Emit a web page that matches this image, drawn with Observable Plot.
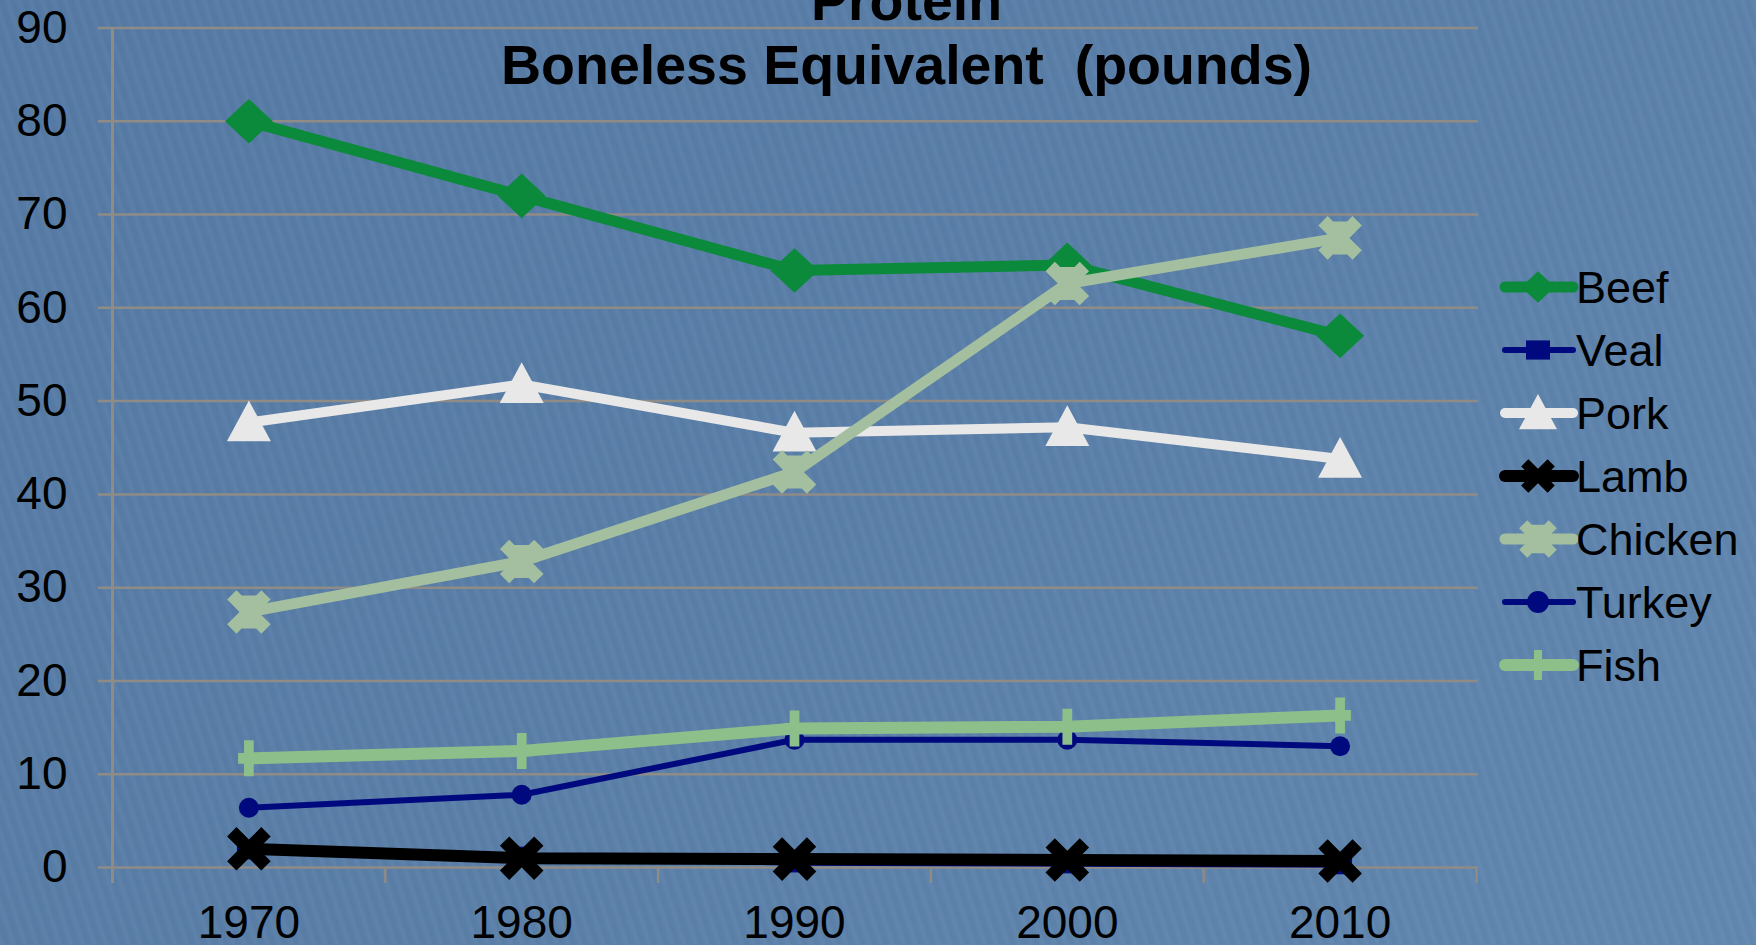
<!DOCTYPE html>
<html><head><meta charset="utf-8">
<script src="https://cdn.jsdelivr.net/npm/d3@7"></script>
<script src="https://cdn.jsdelivr.net/npm/@observablehq/plot@0.6"></script>
<style>
html,body{margin:0;padding:0;}
body{width:1756px;height:945px;overflow:hidden;
  background:
    repeating-linear-gradient(72deg, rgba(255,255,255,0.025) 0px, rgba(255,255,255,0.025) 3px, rgba(0,0,0,0.02) 6px, rgba(0,0,0,0) 11px),
    linear-gradient(135deg,#557aa4 0%,#5a7fa8 50%,#6288b0 100%);}
#wrap{position:relative;width:1756px;height:945px;}
#chart svg{display:block;}
#legend{position:absolute;left:0;top:0;pointer-events:none;}
</style></head>
<body><div id="wrap"><div id="chart"></div><svg id="legend" width="1756" height="945"></svg></div>
<script>
// ---- data ----
const years = [1970, 1980, 1990, 2000, 2010];
const seriesNames = ["Beef", "Veal", "Pork", "Lamb", "Chicken", "Turkey", "Fish"];
const beef    = [80.0, 72.0, 64.0, 64.6, 57.0];
const veal    = [1.9, 1.2, 0.5, 0.4, 0.3];
const pork    = [47.7, 51.8, 46.6, 47.2, 43.8];
const lamb    = [2.0, 1.0, 0.9, 0.8, 0.7];
const chicken = [27.4, 32.8, 42.4, 62.6, 67.5];
const turkey  = [6.4, 7.8, 13.7, 13.7, 13.0];
const fish    = [11.7, 12.5, 14.9, 15.1, 16.3];
const yTicks = [0, 10, 20, 30, 40, 50, 60, 70, 80, 90];
const xBounds = [1965, 1975, 1985, 1995, 2005, 2015];
const titleText = "Protein";
const subtitleText = "Boneless Equivalent\u00a0 (pounds)";

// ---- symbols ----
function mk(fn){ return {draw(ctx, size){ const r = Math.sqrt(size/Math.PI); fn(ctx, r); }}; }
function poly(ctx, pts){ ctx.moveTo(pts[0][0], pts[0][1]); for (let k=1;k<pts.length;k++) ctx.lineTo(pts[k][0], pts[k][1]); ctx.closePath(); }
function plusPts(L, t, L2, t2){
  return [[-t,-L],[t,-L],[t,-t2],[L2,-t2],[L2,t2],[t,t2],[t,L],[-t,L],[-t,t2],[-L2,t2],[-L2,-t2],[-t,-t2]];
}
function rot45(pts){ const s=Math.SQRT1_2; return pts.map(([x,y])=>[(x-y)*s,(x+y)*s]); }
const symDiamond = mk((c,r)=>poly(c,[[0,-0.93*r],[r,0],[0,0.93*r],[-r,0]]));
const symSquare  = mk((c,r)=>poly(c,[[-r,-0.8*r],[r,-0.8*r],[r,0.8*r],[-r,0.8*r]]));
const symTri     = mk((c,r)=>poly(c,[[0,-r],[r,0.85*r],[-r,0.85*r]]));
const symX       = mk((c,r)=>poly(c,rot45(plusPts(1.1*r,0.3*r,1.1*r,0.3*r))));
const symStar    = mk((c,r)=>{ poly(c,rot45(plusPts(1.1*r,0.3*r,1.1*r,0.3*r))); poly(c,plusPts(0.75*r,0.35*r,0.35*r,0.35*r)); });
const symCircle  = mk((c,r)=>{ c.moveTo(r,0); c.arc(0,0,r,0,2*Math.PI); c.closePath(); });
const symPlus    = mk((c,r)=>poly(c,plusPts(r,0.27*r,0.6*r,0.3*r)));

const styles = {
  Beef:    {values: beef,    color: "#0b8a3b", width: 11, symbol: symDiamond, r: 24, lr: 17},
  Veal:    {values: veal,    color: "#000a7e", width: 6,  symbol: symSquare,  r: 12, lr: 12},
  Pork:    {values: pork,    color: "#e8e8e8", width: 10, symbol: symTri,     r: 22, lr: 19},
  Lamb:    {values: lamb,    color: "#000000", width: 12, symbol: symX,       r: 22, lr: 17},
  Chicken: {values: chicken, color: "#a4bf9f", width: 11, symbol: symStar,    r: 22, lr: 19},
  Turkey:  {values: turkey,  color: "#000a7e", width: 6,  symbol: symCircle,  r: 10, lr: 11},
  Fish:    {values: fish,    color: "#8dbf8a", width: 12, symbol: symPlus,    r: 18, lr: 15}
};
const gridColor = "#8f8b86";
const font = "'Liberation Sans', Arial, sans-serif";

const marks = [
  Plot.gridY(yTicks, {stroke: gridColor, strokeOpacity: 1, strokeWidth: 2.5, insetLeft: -14, insetRight: -2}),
  Plot.ruleX([xBounds[0]], {stroke: gridColor, strokeWidth: 3, insetBottom: -16}),
  Plot.axisX(xBounds, {tickSize: 16, tickFormat: () => "", stroke: gridColor, strokeWidth: 2.5, label: null}),
  Plot.axisX(years, {tickSize: 0, tickPadding: 38, tickFormat: d => String(d), label: null, fontSize: 46, fill: "black"}),
  Plot.axisY(yTicks, {tickSize: 0, tickPadding: 45, tickFormat: d => String(d), label: null, fontSize: 46, fill: "black"}),
  Plot.text([titleText], {frameAnchor: "top", dx: 112, dy: -47, fontSize: 55.5, fontWeight: "bold", fill: "black"}),
  Plot.text([subtitleText], {frameAnchor: "top", dx: 112, dy: 17, fontSize: 55.5, fontWeight: "bold", fill: "black"})
];
for (const name of seriesNames) {
  const s = styles[name];
  const rows = years.map((y, i) => ({year: y, value: s.values[i]}));
  marks.push(Plot.line(rows, {x: "year", y: "value", stroke: s.color, strokeWidth: s.width, strokeLinejoin: "round"}));
  marks.push(Plot.dot(rows, {x: "year", y: "value", fill: s.color, stroke: null, symbol: s.symbol, r: s.r}));
}

const chart = Plot.plot({
  width: 1756, height: 945,
  marginLeft: 112, marginRight: 280, marginTop: 27.5, marginBottom: 78,
  x: {domain: [xBounds[0], xBounds[xBounds.length-1]], axis: null},
  y: {domain: [yTicks[0], yTicks[yTicks.length-1]], axis: null},
  style: {background: "transparent", fontFamily: font, fontSize: "46px", color: "black", overflow: "visible"},
  marks
});
document.getElementById("chart").appendChild(chart);

// ---- legend ----
const lg = d3.select("#legend");
seriesNames.forEach((name, i) => {
  const s = styles[name];
  const cy = 287 + i * 63;
  const g = lg.append("g");
  g.append("line").attr("x1", 1505).attr("x2", 1573).attr("y1", cy).attr("y2", cy)
    .attr("stroke", s.color).attr("stroke-width", s.width).attr("stroke-linecap", "round");
  g.append("path").attr("transform", `translate(1538,${cy})`)
    .attr("d", d3.symbol().type(s.symbol).size(Math.PI * s.lr * s.lr)())
    .attr("fill", s.color);
  g.append("text").attr("x", 1576).attr("y", cy).attr("dy", "0.35em")
    .attr("font-family", font).attr("font-size", 45).attr("fill", "black").text(name);
});
</script>
</body></html>
